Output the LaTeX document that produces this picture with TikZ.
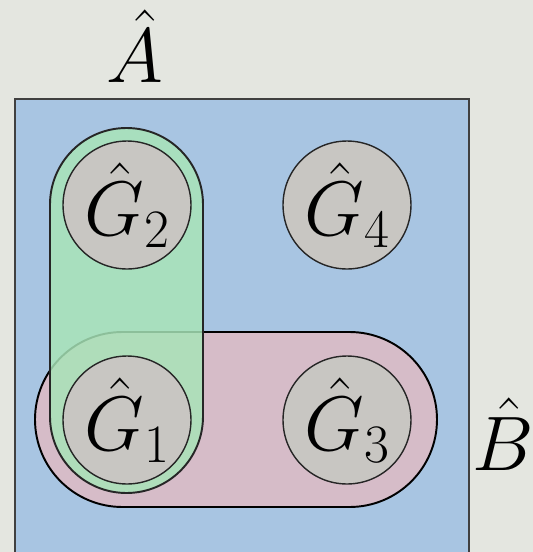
\RequirePackage{fix-cm}
\documentclass[tikz,border=0pt]{standalone}
\usepackage{amsmath,amssymb}
\usepackage{xcolor}
\usetikzlibrary{positioning}

\definecolor{bgPage}{RGB}{228,230,224}
\definecolor{setA}{RGB}{168,197,226}
\definecolor{setG}{RGB}{168,228,184}
\definecolor{setB}{RGB}{220,188,198}
\definecolor{atom}{RGB}{200,198,194}

\begin{document}
\begin{tikzpicture}[
  x=0.02cm, y=-0.02cm,
  font=\fontsize{44}{48}\selectfont,
  set_a/.style={fill=setA, draw=black!75, line width=0.7pt},
  set_b/.style={fill=setB, fill opacity=0.9, draw=black, line width=1.1pt},
  set_g/.style={fill=setG, fill opacity=0.84, draw=black!85, line width=1.1pt},
  atom_node/.style={circle, fill=atom, draw=black!85, line width=0.8pt,
    minimum size=2.56cm, inner sep=0pt}
]
% Pixel grid of the picture: 533 x 552, origin top left.
\def\rA{76.5}
\def\rB{87.5}

% --- Page and the outer set ---
\fill[bgPage] (0,0) rectangle (533,552);
\useasboundingbox (0,0) rectangle (533,552);
\draw[set_a] (15,560) -- (15,99) -- (469,99) -- (469,560);

% --- Pair sets ---
\draw[set_b, rounded corners=\rB*0.02cm] (35,332) rectangle (437,507);
\draw[set_g, rounded corners=\rA*0.02cm] (50,128) rectangle (203,493);

% --- Atoms ---
\node[atom_node] (g2) at (127,205) {$\hat{G}_2$};
\node[atom_node] (g4) at (347,205) {$\hat{G}_4$};
\node[atom_node] (g1) at (127,420) {$\hat{G}_1$};
\node[atom_node] (g3) at (347,420) {$\hat{G}_3$};

% --- Set labels ---
\node (lblA) at (135,46) {$\hat{A}$};
\node[anchor=west, inner sep=0pt] (lblB) at (472,434) {$\hat{B}$};

\end{tikzpicture}
\end{document}
